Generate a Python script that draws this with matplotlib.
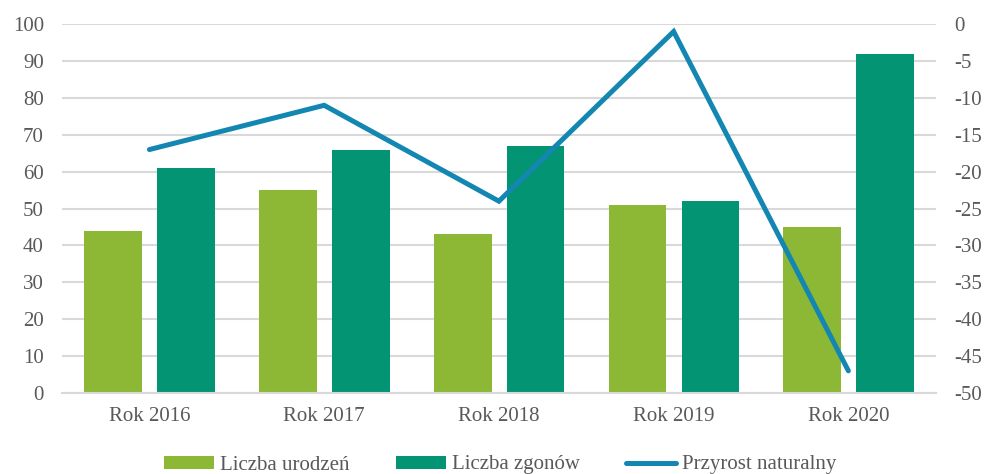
import matplotlib
matplotlib.use("Agg")
import matplotlib.pyplot as plt
import numpy as np

# data
years = ["Rok 2016", "Rok 2017", "Rok 2018", "Rok 2019", "Rok 2020"]
urodzenia = [44, 55, 43, 51, 45]
zgony = [61, 66, 67, 52, 92]
przyrost = [-17, -11, -24, -1, -47]

GREEN = "#8CB836"
TEAL = "#039474"
BLUE = "#1387B2"
GREY_TXT = "#595959"
GRID = "#D9D9D9"

plt.rcParams["font.family"] = ["Liberation Serif", "DejaVu Serif"]
plt.rcParams["axes.unicode_minus"] = False
FS = 15

fig = plt.figure(figsize=(9.85, 4.74), dpi=100)
ax = fig.add_axes([0.063, 0.171, 0.887, 0.778])

x = np.arange(len(years))
w = 0.33
ax.bar(x - 0.207, urodzenia, w, color=GREEN, label="Liczba urodzeń", zorder=2)
ax.bar(x + 0.21, zgony, w, color=TEAL, label="Liczba zgonów", zorder=2)

ax.set_xlim(-0.5, len(years) - 0.5)
ax.set_ylim(0, 100)
ax.set_yticks(range(0, 101, 10))
ax.set_xticks(x)
ax.set_xticklabels(years)
ax.yaxis.grid(True, color=GRID, linewidth=1.5, zorder=0)
ax.set_axisbelow(True)
for s in ["top", "left", "right"]:
    ax.spines[s].set_visible(False)
ax.spines["bottom"].set_color(GRID)
ax.spines["bottom"].set_linewidth(1.5)
ax.tick_params(axis="both", length=0, labelsize=FS, labelcolor=GREY_TXT)
ax.tick_params(axis="y", pad=13)
ax.tick_params(axis="x", pad=10)

ax2 = ax.twinx()
ax2.plot(x, przyrost, color=BLUE, linewidth=3.6, solid_capstyle="round",
         solid_joinstyle="miter", label="Przyrost naturalny")
ax2.set_ylim(-50, 0)
ax2.set_yticks(range(-50, 1, 5))
for s in ["top", "left", "right", "bottom"]:
    ax2.spines[s].set_visible(False)
ax2.tick_params(axis="y", length=0, labelsize=FS, labelcolor=GREY_TXT, pad=13)

h1, l1 = ax.get_legend_handles_labels()
h2, l2 = ax2.get_legend_handles_labels()
leg = fig.legend(h1 + h2, l1 + l2, loc="center", bbox_to_anchor=(0.508, 9 / 474),
                 ncol=3, frameon=False, fontsize=FS, handlelength=2.4,
                 handleheight=0.6, handletextpad=0.3, columnspacing=2.2)
for t in leg.get_texts():
    t.set_color(GREY_TXT)

fig.savefig("out.png", dpi=100)
